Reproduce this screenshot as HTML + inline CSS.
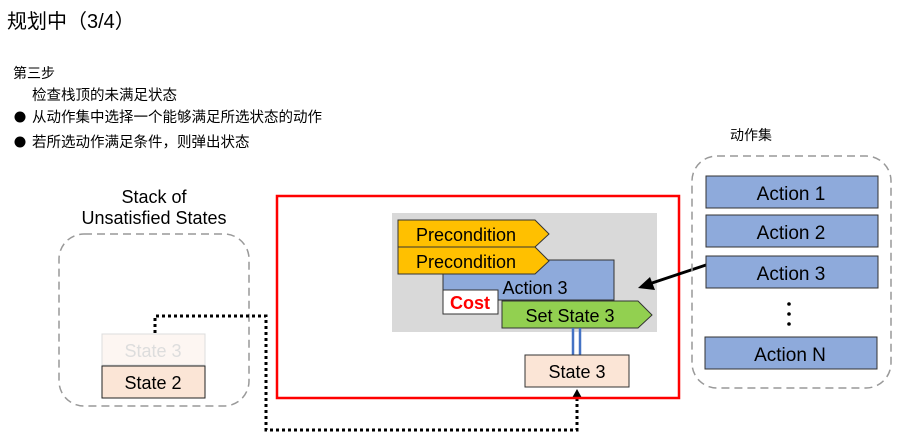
<!DOCTYPE html>
<html><head><meta charset="utf-8"><style>
body{margin:0;background:#fff;width:903px;height:445px;overflow:hidden}
svg{display:block}
text{font-family:"Liberation Sans","Noto Sans CJK SC",sans-serif}
</style></head><body>
<svg width="903" height="445" viewBox="0 0 903 445">
<text x="7" y="28" font-size="20" fill="#000">规划中（3/4）</text>
<text x="13" y="78" font-size="14">第三步</text>
<text x="32" y="100" font-size="14.5">检查栈顶的未满足状态</text>
<circle cx="20" cy="117" r="5.5" fill="#000"/>
<text x="32" y="122" font-size="14.5">从动作集中选择一个能够满足所选状态的动作</text>
<circle cx="20" cy="142" r="5.5" fill="#000"/>
<text x="32" y="147" font-size="14.5">若所选动作满足条件，则弹出状态</text>
<text x="730" y="140" font-size="14">动作集</text>

<!-- left -->
<text x="154" y="203" font-size="18" text-anchor="middle">Stack of</text>
<text x="154" y="224" font-size="18" text-anchor="middle">Unsatisfied States</text>
<rect x="59" y="234" width="190" height="172" rx="25" fill="none" stroke="#999" stroke-width="1.5" stroke-dasharray="8,5"/>
<rect x="102" y="334" width="103" height="31" fill="#fdf6f2" stroke="#ddd"/>
<text x="153" y="357" font-size="18" text-anchor="middle" fill="#ddd">State 3</text>
<rect x="102" y="366" width="103" height="32" fill="#fbe5d6" stroke="#222"/>
<text x="153" y="389" font-size="18" text-anchor="middle">State 2</text>

<!-- dotted -->
<polyline points="155,333 155,316 266,316 266,430 577,430 577,398" fill="none" stroke="#000" stroke-width="3" stroke-dasharray="3,3"/>
<path d="M572,398 L577,389 L582,398 Z" fill="#000"/>

<!-- red box -->
<rect x="277" y="196" width="402" height="202" fill="none" stroke="#f00" stroke-width="2.5"/>
<rect x="392" y="213" width="265" height="119" fill="#d9d9d9"/>
<rect x="443" y="260" width="171" height="40" fill="#8eaadb" stroke="#333"/>
<text x="535" y="294" font-size="18" text-anchor="middle">Action 3</text>
<rect x="443" y="290" width="55" height="24" fill="#fff" stroke="#333"/>
<text x="470" y="309" font-size="18" font-weight="bold" fill="#f00" text-anchor="middle">Cost</text>
<path d="M398,220 H535 L549,234 L535,247 H398 Z" fill="#ffc000" stroke="#333"/>
<text x="466" y="241" font-size="18" text-anchor="middle">Precondition</text>
<path d="M398,247 H535 L549,261 L535,274 H398 Z" fill="#ffc000" stroke="#333"/>
<text x="466" y="268" font-size="18" text-anchor="middle">Precondition</text>
<path d="M502,301 H638 L652,315 L638,328 H502 Z" fill="#92d050" stroke="#333"/>
<text x="570" y="322" font-size="18" text-anchor="middle">Set State 3</text>
<line x1="573" y1="328" x2="573" y2="356" stroke="#4472c4" stroke-width="2.5"/>
<line x1="580" y1="328" x2="580" y2="356" stroke="#4472c4" stroke-width="2.5"/>
<rect x="525" y="355" width="104" height="32" fill="#fbe5d6" stroke="#333"/>
<text x="577" y="378" font-size="18" text-anchor="middle">State 3</text>

<!-- arrow -->
<line x1="706" y1="265" x2="652" y2="283" stroke="#000" stroke-width="3"/>
<path d="M638,288 L650,277 L655,290 Z" fill="#000"/>

<!-- right -->
<rect x="692" y="156" width="199" height="232" rx="25" fill="none" stroke="#999" stroke-width="1.5" stroke-dasharray="8,5"/>
<rect x="706" y="176" width="172" height="32" fill="#8eaadb" stroke="#333"/>
<text x="791" y="200" font-size="19" text-anchor="middle">Action 1</text>
<rect x="706" y="215" width="172" height="32" fill="#8eaadb" stroke="#333"/>
<text x="791" y="239" font-size="19" text-anchor="middle">Action 2</text>
<rect x="706" y="256" width="172" height="32" fill="#8eaadb" stroke="#333"/>
<text x="791" y="280" font-size="19" text-anchor="middle">Action 3</text>
<circle cx="789" cy="304" r="1.8" fill="#000"/>
<circle cx="789" cy="314" r="1.8" fill="#000"/>
<circle cx="789" cy="324" r="1.8" fill="#000"/>
<rect x="705" y="337" width="172" height="32" fill="#8eaadb" stroke="#333"/>
<text x="790" y="361" font-size="19" text-anchor="middle">Action N</text>
</svg>
</body></html>
